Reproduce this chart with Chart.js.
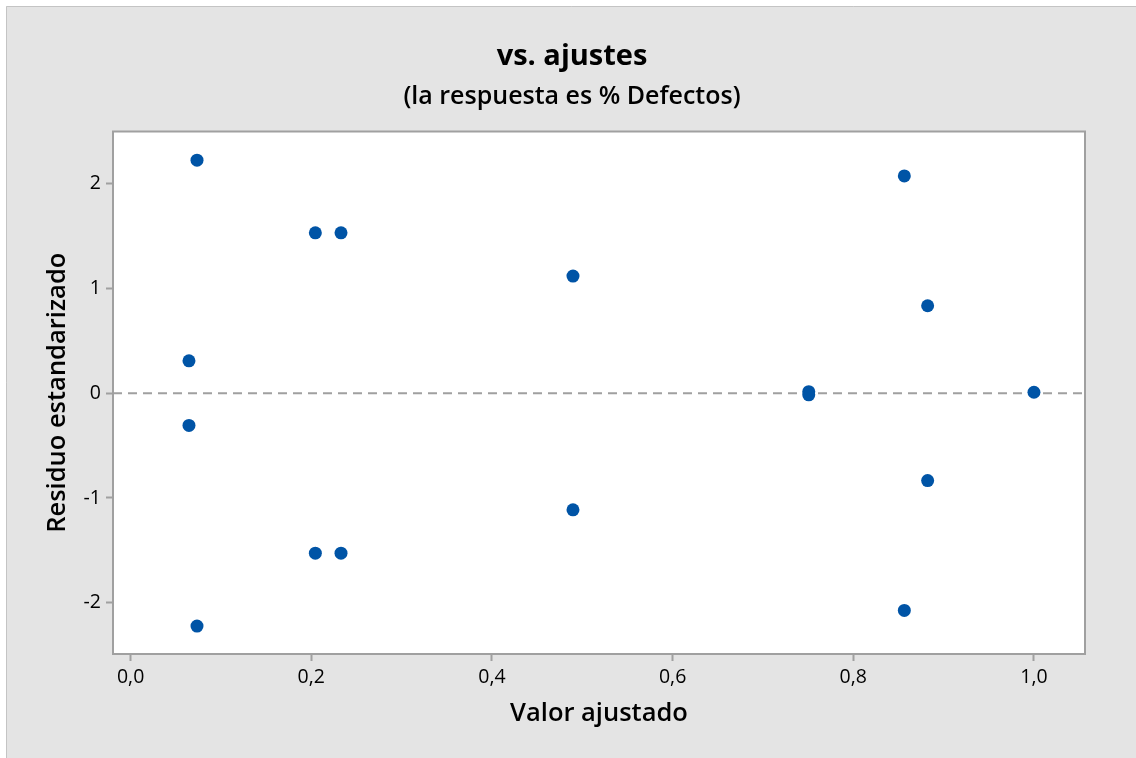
<!DOCTYPE html>
<html>
<head>
<meta charset="utf-8">
<script src="https://cdn.jsdelivr.net/npm/chart.js@4.4.1/dist/chart.umd.min.js"></script>
<style>
  html, body { margin: 0; padding: 0; background: #ffffff; }
  #wrap { width: 1136px; height: 758px; }
</style>
</head>
<body>
<div id="wrap"><canvas id="c" width="1136" height="758"></canvas></div>
<script>
// Fitted values and standardized residuals
const fittedValues = [0.0735, 0.0646, 0.0646, 0.0735, 0.2045, 0.2329, 0.2045, 0.2329, 0.4897, 0.4897, 0.7507, 0.7507, 1.0, 0.8565, 0.8823, 0.8823, 0.8565];
const stdResiduals = [2.226, 0.31, -0.307, -2.223, 1.532, 1.532, -1.527, -1.527, 1.119, -1.113, 0.015, -0.015, 0.01, 2.076, 0.836, -0.834, -2.074];
const xTicks = [0.0, 0.2, 0.4, 0.6, 0.8, 1.0];
const yTicks = [-2, -1, 0, 1, 2];
const xRange = [-0.0195, 1.0565];
const yRange = [-2.49, 2.5];

const FONT = "'Open Sans', 'Noto Sans', sans-serif";
const AXIS_GRAY = '#a0a0a0';

const points = fittedValues.map((x, i) => ({ x: x, y: stdResiduals[i] }));

// Panel background, plot fill, frame and zero reference line
const panelPlugin = {
  id: 'panel',
  beforeDraw(chart) {
    const ctx = chart.ctx;
    const a = chart.chartArea;
    ctx.save();
    ctx.fillStyle = '#ffffff';
    ctx.fillRect(0, 0, chart.width, chart.height);
    ctx.fillStyle = '#e4e4e4';
    ctx.fillRect(6, 6, chart.width - 6, chart.height - 6);
    ctx.strokeStyle = '#c4c4c4';
    ctx.lineWidth = 1;
    ctx.beginPath();
    ctx.moveTo(6.5, chart.height);
    ctx.lineTo(6.5, 6.5);
    ctx.lineTo(chart.width, 6.5);
    ctx.stroke();
    ctx.fillStyle = '#ffffff';
    ctx.fillRect(a.left, a.top, a.right - a.left, a.bottom - a.top);
    ctx.restore();
  },
  beforeDatasetsDraw(chart) {
    const ctx = chart.ctx;
    const a = chart.chartArea;
    const y0 = chart.scales.y.getPixelForValue(0);
    ctx.save();
    ctx.strokeStyle = AXIS_GRAY;
    ctx.lineWidth = 2;
    ctx.setLineDash([9, 6]);
    ctx.beginPath();
    ctx.moveTo(a.left, y0);
    ctx.lineTo(a.right, y0);
    ctx.stroke();
    ctx.setLineDash([]);
    ctx.strokeRect(a.left, a.top, a.right - a.left, a.bottom - a.top);
    ctx.restore();
  }
};

new Chart(document.getElementById('c'), {
  type: 'scatter',
  data: {
    datasets: [{
      data: points,
      pointRadius: 6.5,
      pointHoverRadius: 6.5,
      pointBackgroundColor: '#0054a6',
      pointBorderColor: '#0054a6',
      pointBorderWidth: 0
    }]
  },
  options: {
    responsive: false,
    animation: false,
    devicePixelRatio: 1,
    layout: { padding: { top: 0, right: 30, bottom: 25, left: 38 } },
    plugins: {
      legend: { display: false },
      tooltip: { enabled: false },
      title: {
        display: true,
        text: 'vs. ajustes',
        color: '#000000',
        font: { family: FONT, size: 29, weight: 'bold' },
        padding: { top: 39.6, bottom: 7.6 }
      },
      subtitle: {
        display: true,
        text: '(la respuesta es % Defectos)',
        color: '#000000',
        font: { family: FONT, size: 25, weight: '600' },
        padding: { top: 0, bottom: 19.5 }
      }
    },
    scales: {
      x: {
        type: 'linear',
        min: xRange[0],
        max: xRange[1],
        afterBuildTicks(scale) { scale.ticks = xTicks.map(v => ({ value: v })); },
        afterFit(scale) { scale.height = 79; },
        ticks: {
          color: '#000000',
          font: { family: FONT, size: 19.5 },
          padding: 5,
          callback: v => v.toFixed(1).replace('.', ',')
        },
        grid: { drawOnChartArea: false, drawTicks: true, tickLength: 7, tickWidth: 2, color: AXIS_GRAY },
        border: { display: false },
        title: {
          display: true,
          text: 'Valor ajustado',
          color: '#000000',
          font: { family: FONT, size: 25.5, weight: '600' },
          padding: { top: 4, bottom: 4 }
        }
      },
      y: {
        type: 'linear',
        min: yRange[0],
        max: yRange[1],
        afterBuildTicks(scale) { scale.ticks = yTicks.map(v => ({ value: v })); },
        afterFit(scale) { scale.width = 75; },
        ticks: {
          color: '#000000',
          font: { family: FONT, size: 19.5 },
          padding: 5,
          callback: v => String(v)
        },
        grid: { drawOnChartArea: false, drawTicks: true, tickLength: 7, tickWidth: 2, color: AXIS_GRAY },
        border: { display: false },
        title: {
          display: true,
          text: 'Residuo estandarizado',
          color: '#000000',
          font: { family: FONT, size: 25.5, weight: '600' },
          padding: { top: 4, bottom: 4 }
        }
      },
      // empty right-hand margin beside the plot
      yRight: {
        type: 'linear',
        position: 'right',
        display: true,
        min: yRange[0],
        max: yRange[1],
        afterFit(scale) { scale.width = 21; },
        ticks: { display: false },
        grid: { display: false, drawTicks: false },
        border: { display: false },
        title: { display: false }
      }
    }
  },
  plugins: [panelPlugin]
});
</script>
</body>
</html>
